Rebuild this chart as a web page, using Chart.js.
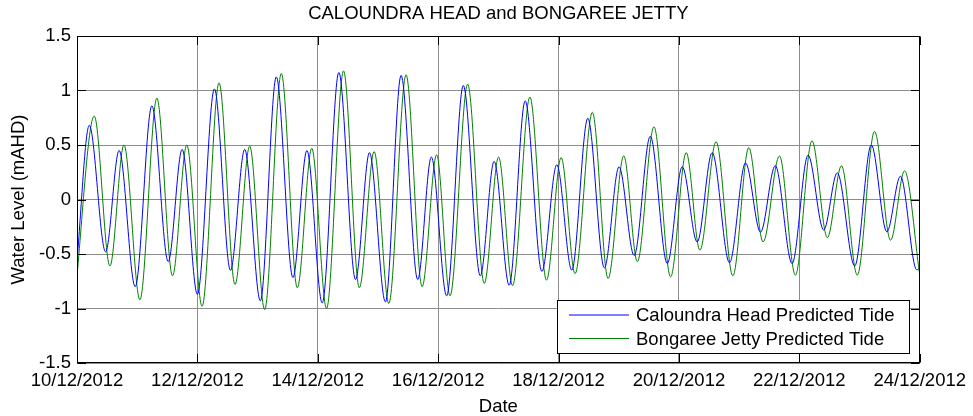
<!DOCTYPE html>
<html>
<head>
<meta charset="utf-8">
<script src="https://cdn.jsdelivr.net/npm/chart.js@4"></script>
<style>
  html, body { margin: 0; padding: 0; background: #fff; }
  #wrap { width: 973px; height: 416px; }
</style>
</head>
<body>
<div id="wrap"><canvas id="tide" width="973" height="416"></canvas></div>
<script>
// Predicted tide levels, time in days after 10/12/2012 00:00, level in mAHD.
const chartTitle = 'CALOUNDRA HEAD and BONGAREE JETTY';
const xAxisTitle = 'Date';
const yAxisTitle = 'Water Level (mAHD)';
const seriesNames = ['Caloundra Head Predicted Tide', 'Bongaree Jetty Predicted Tide'];
const dateTicks = ['10/12/2012', '12/12/2012', '14/12/2012', '16/12/2012',
                   '18/12/2012', '20/12/2012', '22/12/2012', '24/12/2012'];
const levelTicks = [-1.5, -1, -0.5, 0, 0.5, 1, 1.5];

// Caloundra Head: highs and lows
const caloundraDays = [0, 0.204, 0.475, 0.70, 0.967, 1.244, 1.515, 1.747, 2.0, 2.283,
  2.549, 2.786, 3.046, 3.311, 3.587, 3.82, 4.074, 4.35, 4.627, 4.859,
  5.124, 5.384, 5.66, 5.887, 6.141, 6.418, 6.70, 6.93, 7.18, 7.446,
  7.723, 7.971, 8.22, 8.486, 8.761, 9.005, 9.256, 9.524, 9.806, 10.055,
  10.303, 10.552, 10.84, 11.106, 11.355, 11.60, 11.88, 12.145, 12.405, 12.63,
  12.92, 13.196, 13.454, 13.68, 13.95, 14.0];
const caloundraLevels = [-0.56, 0.68, -0.48, 0.45, -0.80, 0.86, -0.57, 0.46, -0.87, 1.015,
  -0.65, 0.46, -0.93, 1.125, -0.716, 0.45, -0.95, 1.165, -0.734, 0.43,
  -0.94, 1.138, -0.734, 0.39, -0.884, 1.046, -0.70, 0.35, -0.786, 0.905,
  -0.66, 0.318, -0.648, 0.746, -0.627, 0.30, -0.514, 0.58, -0.587, 0.30,
  -0.39, 0.43, -0.58, 0.336, -0.30, 0.31, -0.587, 0.407, -0.28, 0.245,
  -0.61, 0.50, -0.297, 0.214, -0.645, -0.63];

// Bongaree Jetty: highs and lows
const bongareeDays = [-0.03, 0.287, 0.547, 0.78, 1.045, 1.327, 1.587, 1.824, 2.078, 2.36,
  2.625, 2.869, 3.118, 3.394, 3.66, 3.90, 4.146, 4.428, 4.69, 4.937,
  5.18, 5.467, 5.733, 5.975, 6.197, 6.49, 6.766, 7.004, 7.236, 7.524,
  7.80, 8.043, 8.275, 8.562, 8.823, 9.083, 9.309, 9.585, 9.862, 10.121,
  10.348, 10.618, 10.896, 11.161, 11.398, 11.67, 11.935, 12.21, 12.466, 12.70,
  12.963, 13.25, 13.516, 13.748, 14.0];
const bongareeLevels = [-0.87, 0.765, -0.61, 0.50, -0.92, 0.93, -0.70, 0.50, -0.98, 1.07,
  -0.78, 0.49, -1.01, 1.156, -0.81, 0.47, -1.0, 1.18, -0.81, 0.44,
  -0.954, 1.144, -0.80, 0.41, -0.884, 1.058, -0.77, 0.39, -0.79, 0.94,
  -0.74, 0.385, -0.68, 0.80, -0.725, 0.40, -0.57, 0.667, -0.71, 0.43,
  -0.465, 0.53, -0.70, 0.477, -0.39, 0.40, -0.694, 0.538, -0.35, 0.31,
  -0.694, 0.624, -0.373, 0.263, -0.69];

const FONT_FAMILY = '"Liberation Sans", Arial, Helvetica, sans-serif';
const FONT_SIZE = 18.5;
Chart.defaults.font.family = FONT_FAMILY;
Chart.defaults.font.size = FONT_SIZE;
Chart.defaults.color = '#000';

const toPoints = (xs, ys) => xs.map((x, i) => ({ x, y: ys[i] }));

// Axes box with inward tick marks on all four sides
const axesFrame = {
  id: 'axesFrame',
  afterDatasetsDraw(chart) {
    const { ctx, chartArea: a, scales: { x, y } } = chart;
    const L = Math.round(a.left) + 0.5, R = Math.round(a.right) - 0.5;
    const T = Math.round(a.top) + 0.5, B = Math.round(a.bottom) - 0.5;
    const len = 8.5;
    ctx.save();
    ctx.strokeStyle = '#000';
    ctx.lineWidth = 1;
    ctx.beginPath();
    x.ticks.forEach(t => {
      const px = Math.round(x.getPixelForValue(t.value)) + 0.5;
      ctx.moveTo(px, B); ctx.lineTo(px, B - len);
      ctx.moveTo(px, T); ctx.lineTo(px, T + len);
    });
    y.ticks.forEach(t => {
      const py = Math.round(y.getPixelForValue(t.value)) + 0.5;
      ctx.moveTo(L, py); ctx.lineTo(L + len, py);
      ctx.moveTo(R, py); ctx.lineTo(R - len, py);
    });
    ctx.stroke();
    ctx.strokeRect(L, T, R - L, B - T);
    ctx.restore();
  }
};

// Legend drawn inside the bottom-right corner of the axes
const cornerLegend = {
  id: 'cornerLegend',
  afterDraw(chart) {
    const { ctx, chartArea: a } = chart;
    const ds = chart.data.datasets;
    ctx.save();
    ctx.font = FONT_SIZE + 'px ' + FONT_FAMILY;
    const textW = Math.max(...ds.map(d => ctx.measureText(d.label).width));
    const w = Math.round(79 + textW + 15), h = 53;
    const right = Math.round(a.right) - 11, bottom = Math.round(a.bottom) - 10;
    const left = right - w, top = bottom - h;
    ctx.fillStyle = '#fff';
    ctx.fillRect(left, top, w, h);
    ctx.strokeStyle = '#000';
    ctx.lineWidth = 1;
    ctx.strokeRect(left + 0.5, top + 0.5, w, h);
    ds.forEach((d, i) => {
      const yMid = top + 15 + i * 23.5;
      ctx.strokeStyle = d.borderColor;
      ctx.lineWidth = 1;
      ctx.beginPath();
      ctx.moveTo(left + 12, yMid);
      ctx.lineTo(left + 72, yMid);
      ctx.stroke();
      ctx.fillStyle = '#000';
      ctx.textAlign = 'left';
      ctx.textBaseline = 'middle';
      ctx.fillText(d.label, left + 79, yMid + 1);
    });
    ctx.restore();
  }
};

new Chart(document.getElementById('tide'), {
  type: 'line',
  data: {
    datasets: [
      {
        label: seriesNames[0],
        data: toPoints(caloundraDays, caloundraLevels),
        borderColor: '#0000ff',
        borderWidth: 1,
        pointRadius: 0,
        fill: false,
        cubicInterpolationMode: 'monotone'
      },
      {
        label: seriesNames[1],
        data: toPoints(bongareeDays, bongareeLevels),
        borderColor: '#008000',
        borderWidth: 1,
        pointRadius: 0,
        fill: false,
        cubicInterpolationMode: 'monotone'
      }
    ]
  },
  options: {
    responsive: false,
    animation: false,
    devicePixelRatio: 1,
    layout: { padding: { left: 0, right: 51, top: 0, bottom: 0 } },
    plugins: {
      legend: { display: false },
      tooltip: { enabled: false },
      title: {
        display: true,
        fullSize: false,
        text: chartTitle,
        color: '#000',
        font: { size: FONT_SIZE, weight: 'normal' },
        padding: { top: 3, bottom: 10.8 }
      }
    },
    scales: {
      x: {
        type: 'linear',
        min: 0,
        max: 14,
        afterBuildTicks: s => { s.ticks = dateTicks.map((_, i) => ({ value: i * 2 })); },
        ticks: {
          autoSkip: false,
          maxRotation: 0,
          padding: 7,
          color: '#000',
          callback: v => dateTicks[Math.round(v / 2)]
        },
        grid: { color: '#8c8c8c', lineWidth: 1, drawTicks: false },
        border: { display: false },
        title: {
          display: true,
          text: xAxisTitle,
          color: '#000',
          font: { size: FONT_SIZE, lineHeight: 1 },
          padding: { top: 0, bottom: 0.3 }
        },
        afterFit: s => { s.height = 53; }
      },
      y: {
        type: 'linear',
        min: -1.5,
        max: 1.5,
        afterBuildTicks: s => { s.ticks = levelTicks.map(v => ({ value: v })); },
        ticks: {
          padding: 6,
          color: '#000',
          callback: v => String(v)
        },
        grid: { color: '#8c8c8c', lineWidth: 1, drawTicks: false },
        border: { display: false },
        title: {
          display: true,
          text: yAxisTitle,
          color: '#000',
          padding: { top: 7.4, bottom: 0 }
        },
        afterFit: s => { s.width = 77; }
      }
    }
  },
  plugins: [axesFrame, cornerLegend]
});
</script>
</body>
</html>
